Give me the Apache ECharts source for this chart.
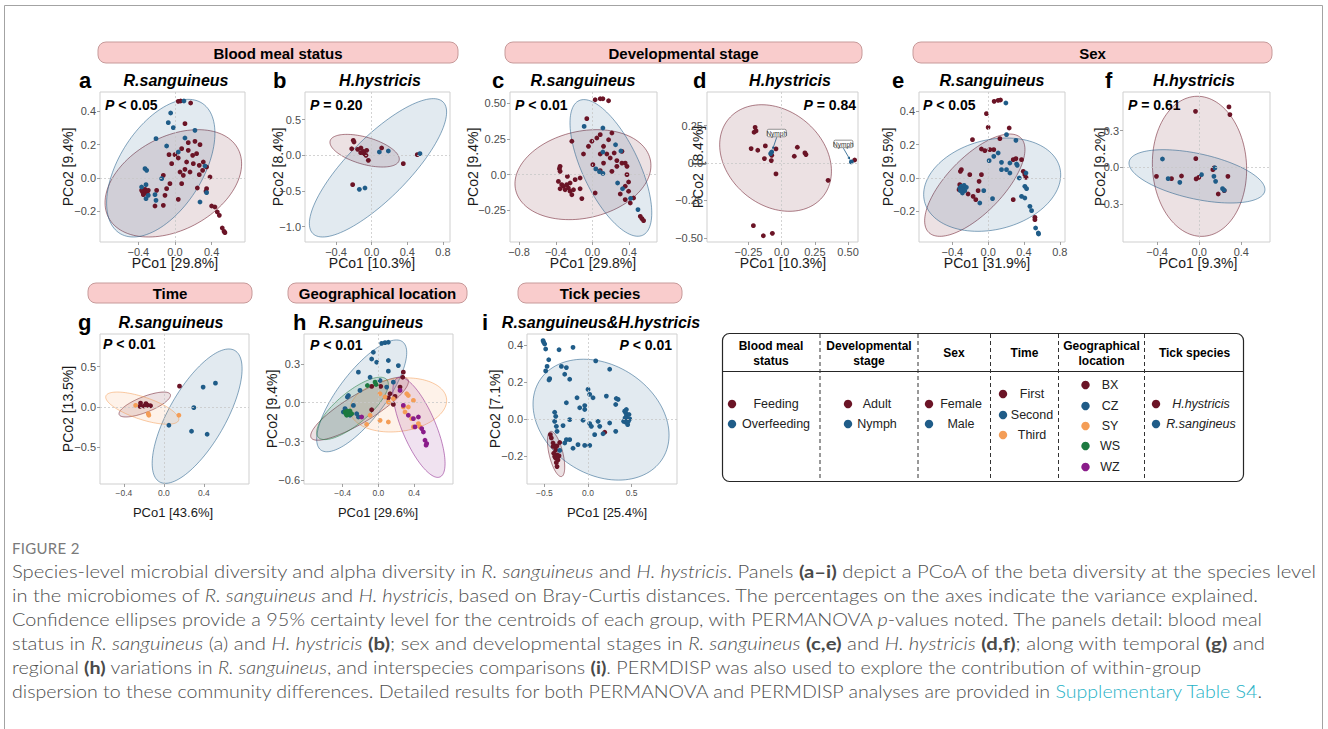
<!DOCTYPE html>
<html><head><meta charset="utf-8">
<script src="https://cdn.jsdelivr.net/npm/echarts@6/dist/echarts.min.js"></script>
<style>
html,body{margin:0;padding:0;background:#fff;width:1328px;height:729px;overflow:hidden}
#chart{position:absolute;left:0;top:0;width:1328px;height:729px}
.ln{position:absolute;left:12px;white-space:nowrap;font-family:Lato,'Open Sans',sans-serif;font-weight:300;font-size:17.5px;line-height:24px;color:#4f4f4f;transform-origin:0 50%}
.ln b{font-weight:700;color:#4a4a4a}
.fig{position:absolute;left:12px;top:538px;font-family:Lato,'Open Sans',sans-serif;font-size:15px;line-height:20px;color:#7a7a7a;letter-spacing:0.3px}
.lk{color:#27b2c6}
</style></head><body>
<div id="chart"></div>
<div class="fig">FIGURE 2</div>
<div class="ln" style="top:560px">Species-level microbial diversity and alpha diversity in <i>R. sanguineus</i> and <i>H. hystricis</i>. Panels <b>(a–i)</b> depict a PCoA of the beta diversity at the species level</div>
<div class="ln" style="top:584px">in the microbiomes of <i>R. sanguineus</i> and <i>H. hystricis</i>, based on Bray-Curtis distances. The percentages on the axes indicate the variance explained.</div>
<div class="ln" style="top:608px">Confidence ellipses provide a 95% certainty level for the centroids of each group, with PERMANOVA <i>p</i>-values noted. The panels detail: blood meal</div>
<div class="ln" style="top:632px">status in <i>R. sanguineus</i> (a) and <i>H. hystricis</i> <b>(b)</b>; sex and developmental stages in <i>R. sanguineus</i> <b>(c,e)</b> and <i>H. hystricis</i> <b>(d,f)</b>; along with temporal <b>(g)</b> and</div>
<div class="ln" style="top:656px">regional <b>(h)</b> variations in <i>R. sanguineus</i>, and interspecies comparisons <b>(i)</b>. PERMDISP was also used to explore the contribution of within-group</div>
<div class="ln" style="top:680px">dispersion to these community differences. Detailed results for both PERMANOVA and PERMDISP analyses are provided in <span class="lk">Supplementary Table S4</span>.</div>
<script>
// ================= DATA =================
// Ellipse rows: [centerX, centerY, halfWidthX, halfHeightY, xOfTopmostPoint - centerX]  (data units)
// ---- a: Blood meal status, R.sanguineus ----
const aFeeding = [[0.036,0.46],[0.062,0.462],[0.171,0.45],[0.109,0.326],[-0.065,0.14],[0.0,0.14],[0.073,0.176],[0.145,0.212],[0.218,0.22],[0.273,0.2],[0.145,0.166],[0.236,0.146],[0.036,0.12],[-0.036,0.086],[0.127,0.096],[0.2,0.086],[0.265,0.076],[0.309,0.096],[0.345,0.066],[0.302,0.046],[0.055,0.036],[0.109,0.052],[0.164,0.036],[0.091,0.016],[-0.127,0.016],[-0.055,-0.034],[-0.327,-0.068],[-0.353,-0.084],[-0.316,-0.08],[-0.302,-0.094],[-0.345,-0.1],[-0.291,-0.074],[-0.364,-0.074],[-0.2,-0.074],[-0.091,-0.064],[-0.109,-0.104],[-0.127,-0.164],[-0.218,-0.168],[0.036,-0.128],[0.244,-0.06],[0.338,-0.08],[0.382,0.006],[0.4,-0.168],[0.436,-0.174],[0.462,-0.204],[0.484,-0.224],[0.516,-0.3],[0.535,-0.32],[0.545,-0.328],[0.345,-0.064],[0.265,0.02],[0.193,0.136],[0.073,-0.034]];
const aOverfeeding = [[0.098,0.462],[-0.047,0.39],[-0.018,0.302],[-0.073,0.332],[0.218,0.286],[-0.207,0.236],[-0.091,0.192],[0.109,0.24],[0.036,0.156],[0.327,0.072],[-0.327,0.056],[-0.309,0.046],[-0.145,-0.004],[-0.316,-0.04],[-0.364,-0.054],[-0.291,-0.104],[-0.218,-0.1],[-0.207,-0.134],[-0.316,-0.124],[0.273,-0.144],[0.345,-0.088]];
const aEllipses = [[-0.018,-0.032,0.745,0.322,0.27],[-0.155,0.059,0.591,0.413,0.30]];
const aXTicks = [-0.4,0,0.4], aXTickLabels = ['−0.4','0.0','0.4'];
const aYTicks = [-0.2,0,0.2,0.4], aYTickLabels = ['−0.2','0.0','0.2','0.4'];
// ---- b: Blood meal status, H.hystricis ----
const bFeeding = [[-0.206,0.21],[-0.198,0.187],[-0.224,0.093],[-0.157,0.084],[-0.12,0.103],[-0.123,0.037],[-0.086,0.023],[-0.056,0.07],[-0.064,0.0],[-0.037,-0.07],[0.112,0.103],[0.355,-0.117],[0.512,0.009],[-0.213,-0.411],[-0.093,0.056]];
const bOverfeeding = [[0.086,0.047],[0.187,0.061],[0.542,0.023],[-0.138,-0.477],[-0.075,-0.458]];
const bEllipses = [[-0.079,0.065,0.389,0.229,-0.20],[0.071,-0.175,0.770,0.970,0.62]];
const bXTicks = [-0.4,0,0.4,0.8], bXTickLabels = ['−0.4','0.0','0.4','0.8'];
const bYTicks = [-1.0,-0.5,0,0.5], bYTickLabels = ['−1.0','−0.5','0.0','0.5'];
// ---- c: Developmental stage, R.sanguineus ----
const cAdult = [[0.029,0.523],[0.084,0.53],[0.113,0.53],[0.175,0.516],[-0.062,0.391],[-0.225,0.233],[-0.353,0.058],[-0.36,0.042],[-0.353,0.023],[-0.371,-0.047],[-0.335,-0.07],[-0.316,-0.081],[-0.28,-0.07],[-0.262,-0.093],[-0.353,-0.098],[-0.298,-0.105],[-0.244,-0.058],[-0.244,-0.116],[-0.207,-0.105],[-0.135,-0.098],[-0.225,-0.14],[-0.116,-0.167],[-0.273,-0.012],[-0.189,-0.035],[-0.135,-0.023],[-0.098,0.144],[-0.044,0.198],[-0.007,0.233],[0.047,0.256],[0.084,0.279],[0.175,0.244],[0.12,0.198],[0.211,0.291],[0.084,0.144],[0.156,0.144],[0.193,0.116],[0.265,0.098],[0.32,0.081],[0.265,0.058],[0.356,0.081],[0.375,0.058],[0.236,0.151],[0.32,0.163],[0.375,0.0],[0.393,-0.051],[0.356,-0.081],[0.393,-0.116],[0.302,-0.135],[0.084,0.028],[0.029,-0.128],[0.12,0.081],[0.004,0.07],[0.211,0.023],[0.356,-0.174],[0.447,-0.163],[0.52,-0.291],[0.538,-0.307],[0.556,-0.321],[0.411,-0.198]];
const cNymph = [[-0.091,0.337],[0.113,0.326],[0.251,0.209],[0.309,0.165],[0.113,0.158],[0.036,0.04],[0.076,0.021],[0.113,0.009],[0.273,-0.058],[0.327,-0.098],[0.415,-0.165],[0.495,-0.244]];
const cEllipses = [[-0.104,0.0,0.74,0.314,0.15],[0.2,0.047,0.445,0.477,-0.293]];
const cXTicks = [-0.8,-0.4,0,0.4], cXTickLabels = ['−0.8','−0.4','0.0','0.4'];
const cYTicks = [-0.25,0,0.25,0.5], cYTickLabels = ['−0.25','0.0','0.25','0.50'];
// ---- d: Developmental stage, H.hystricis ----
const dAdult = [[-0.2,0.238],[-0.193,0.214],[-0.208,0.205],[-0.23,0.096],[-0.18,0.085],[-0.123,0.114],[-0.043,0.094],[-0.13,0.029],[-0.078,0.016],[-0.075,0.051],[0.095,0.045],[0.118,0.105],[0.175,0.067],[0.183,0.056],[-0.043,-0.073],[0.35,-0.116],[0.55,0.02],[-0.213,-0.419],[-0.138,-0.486],[-0.07,-0.47]];
const dNymph = [[-0.075,0.073],[-0.083,0.062],[0.525,0.007]];
const dNymphNotes = [[-0.075,0.073],[0.525,0.007]];
const dNymphNoteText = ['Nymph','Nymph'];
const dEllipses = [[-0.046,0.033,0.421,0.356,-0.104]];
const dXTicks = [-0.25,0,0.25,0.5], dXTickLabels = ['−0.25','0.0','0.25','0.50'];
const dYTicks = [-0.5,-0.25,0,0.25], dYTickLabels = ['−0.50','−0.25','0.0','0.25'];
// ---- e: Sex, R.sanguineus ----
const eFemale = [[0.067,0.46],[0.112,0.466],[0.138,0.468],[-0.019,0.386],[0.0,0.304],[0.235,0.3],[-0.175,0.23],[0.131,0.236],[-0.075,0.174],[-0.037,0.164],[0.019,0.17],[0.063,0.17],[0.28,0.11],[0.31,0.116],[0.373,0.11],[-0.299,0.05],[-0.31,0.04],[-0.205,0.02],[-0.075,0.02],[-0.101,-0.02],[-0.112,-0.076],[0.392,0.04],[0.41,0.02],[0.422,0.004],[-0.317,-0.04],[-0.325,-0.07],[-0.224,-0.096],[-0.168,-0.11],[-0.138,-0.13],[0.28,-0.13],[0.522,-0.236],[0.522,-0.25]];
const eMale = [[0.198,0.45],[0.205,0.26],[0.31,0.226],[0.149,0.094],[0.243,0.09],[0.317,0.084],[0.325,0.076],[0.149,0.05],[0.205,0.05],[0.243,0.03],[0.011,0.104],[0.063,0.13],[0.112,0.15],[0.422,0.03],[0.347,0.0],[0.41,-0.05],[0.429,-0.064],[0.373,-0.11],[0.41,-0.12],[0.466,-0.17],[0.485,-0.196],[0.53,-0.3],[0.56,-0.33],[0.563,-0.336],[-0.049,-0.076],[-0.093,-0.15],[0.049,-0.124],[-0.317,-0.06],[-0.299,-0.05],[-0.28,-0.064],[-0.261,-0.076],[-0.287,-0.09],[-0.31,-0.076],[-0.243,-0.056],[-0.269,-0.044]];
const eEllipses = [[-0.149,-0.043,0.56,0.307,0.39],[0.045,-0.04,0.765,0.28,0.16]];
const eXTicks = [-0.4,0,0.4,0.8], eXTickLabels = ['−0.4','0.0','0.4','0.8'];
const eYTicks = [-0.2,0,0.2,0.4], eYTickLabels = ['−0.2','0.0','0.2','0.4'];
// ---- f: Sex, H.hystricis ----
const fFemale = [[-0.035,0.458],[0.283,0.494],[0.292,0.431],[-0.406,-0.074],[-0.263,-0.093],[-0.168,-0.071],[-0.032,0.071],[-0.029,-0.095],[-0.003,-0.082],[0.13,-0.019],[0.143,-0.005],[0.273,-0.074],[0.181,-0.218],[0.238,-0.191]];
const fMale = [[-0.349,0.068],[-0.295,-0.093],[-0.184,-0.123],[0.022,-0.06],[0.149,-0.005],[0.14,-0.074],[0.156,-0.115],[0.222,-0.175],[0.238,-0.188]];
const fEllipses = [[0.003,0.008,0.448,0.573,-0.02],[-0.021,-0.074,0.646,0.218,-0.32]];
const fXTicks = [-0.4,0,0.4], fXTickLabels = ['−0.4','0.0','0.4'];
const fYTicks = [-0.3,0,0.3], fYTickLabels = ['−0.3','0.0','0.3'];
// ---- g: Time, R.sanguineus ----
const gFirst = [[-0.233,0.049],[-0.239,0.008],[-0.179,0.041],[-0.159,0.02],[-0.133,0.016],[-0.199,0.012],[0.156,0.258]];
const gSecond = [[0.392,0.246],[0.515,0.295],[0.299,-0.008],[0.05,-0.225],[0.276,-0.299],[0.432,-0.336]];
const gThird = [[-0.282,0.02],[-0.156,-0.082],[-0.15,-0.102],[0.15,-0.102]];
const gEllipses = [[-0.191,0.031,0.257,0.154,0.19],[0.332,-0.113,0.449,0.83,0.316],[-0.216,-0.014,0.365,0.199,-0.25]];
const gXTicks = [-0.4,0,0.4], gXTickLabels = ['−0.4','0.0','0.4'];
const gYTicks = [-0.5,0,0.5], gYTickLabels = ['−0.5','0.0','0.5'];
// ---- h: Geographical location, R.sanguineus ----
const hBX = [[0.28,0.236],[0.273,0.197],[-0.075,0.126],[0.026,0.126],[0.112,0.038],[0.187,0.049],[0.168,-0.013],[-0.075,-0.054],[0.131,0.069],[0.243,0.121]];
const hCZ = [[0.037,0.459],[0.075,0.464],[0.112,0.467],[-0.056,0.39],[-0.075,0.338],[0.112,0.326],[0.224,0.287],[-0.224,0.236],[-0.019,0.313],[0.112,0.244],[0.019,0.172],[-0.093,0.197],[0.093,0.121],[0.168,0.159],[-0.206,0.095],[-0.336,0.056],[-0.348,0.044],[-0.28,-0.021],[-0.243,-0.085],[-0.318,-0.097],[-0.374,-0.046],[-0.393,-0.072],[-0.224,-0.11]];
const hSY = [[0.019,0.069],[0.075,0.044],[0.168,0.031],[0.318,0.069],[0.336,0.056],[0.393,0.018],[0.112,0.005],[-0.093,-0.097],[0.019,-0.136],[0.28,-0.033],[0.336,-0.033],[0.374,-0.123],[0.449,-0.162],[0.467,-0.187],[0.393,-0.187],[0.112,-0.149],[-0.131,-0.167],[0.299,-0.072]];
const hWS = [[-0.037,0.159],[-0.026,0.141],[-0.123,0.133],[-0.374,-0.072],[-0.363,-0.085],[-0.355,-0.097],[-0.336,-0.079],[-0.325,-0.09],[-0.318,-0.064],[-0.299,-0.085],[-0.348,-0.064]];
const hWZ = [[0.243,0.095],[0.28,-0.021],[0.336,-0.097],[0.393,-0.123],[0.449,-0.11],[0.486,-0.2],[0.505,-0.226],[0.523,-0.29],[0.542,-0.315],[0.535,-0.328],[0.411,-0.187],[-0.187,-0.11]];
const hEllipses = [[-0.211,-0.046,0.548,0.244,0.47],[-0.187,0.053,0.505,0.432,0.39],[0.224,-0.017,0.542,0.209,0.09],[-0.29,-0.044,0.402,0.241,0.31],[0.455,-0.19,0.293,0.387,-0.211]];
const hXTicks = [-0.4,0,0.4], hXTickLabels = ['−0.4','0.0','0.4'];
const hYTicks = [-0.6,-0.3,0,0.3], hYTickLabels = ['−0.6','−0.3','0.0','0.3'];
// ---- i: Tick species ----
const iHystricis = [[-0.431,-0.085],[-0.42,-0.103],[-0.401,-0.13],[-0.382,-0.145],[-0.355,-0.145],[-0.324,-0.127],[-0.37,-0.167],[-0.393,-0.185],[-0.355,-0.194],[-0.332,-0.199],[-0.37,-0.212],[-0.344,-0.221],[-0.363,-0.236],[-0.355,-0.257],[-0.382,-0.203],[-0.401,-0.149],[0.191,-0.072]];
const iSangineus = [[-0.515,0.422],[-0.508,0.413],[-0.496,0.404],[-0.485,0.377],[-0.45,0.319],[-0.469,0.283],[-0.485,0.259],[-0.439,0.217],[-0.447,0.21],[-0.305,0.283],[-0.248,0.277],[-0.332,0.373],[-0.172,0.386],[-0.267,0.241],[-0.21,0.214],[0.088,0.313],[0.248,0.268],[0.0,0.159],[0.019,0.132],[0.057,0.114],[-0.126,0.114],[-0.248,0.087],[-0.095,0.06],[-0.038,0.072],[-0.038,0.051],[0.21,0.123],[0.324,0.11],[0.344,0.105],[0.317,0.078],[-0.382,0.036],[-0.37,0.014],[-0.382,-0.013],[-0.363,-0.04],[-0.355,-0.067],[-0.286,-0.036],[-0.21,-0.004],[-0.057,-0.007],[0.019,-0.025],[0.038,-0.04],[0.134,-0.04],[0.115,-0.013],[0.248,-0.022],[0.317,-0.067],[0.076,-0.085],[0.172,-0.08],[-0.248,-0.112],[-0.267,-0.13],[-0.21,-0.112],[-0.172,-0.158],[-0.115,-0.139],[-0.038,-0.143],[0.019,-0.143],[-0.324,-0.17],[0.439,0.051],[0.431,0.033],[0.439,0.014],[0.447,-0.004],[0.431,-0.018],[0.454,-0.031],[0.424,0.005],[0.469,0.024],[0.408,-0.013],[0.462,-0.013],[0.42,0.042],[0.477,0.0]];
const iEllipses = [[-0.366,-0.189,0.099,0.122,-0.057],[0.149,-0.004,0.779,0.326,-0.2]];
const iXTicks = [-0.5,0,0.5], iXTickLabels = ['−0.5','0.0','0.5'];
const iYTicks = [-0.2,0,0.2,0.4], iYTickLabels = ['−0.2','0.0','0.2','0.4'];
// ---- Legend table categories ----
const bloodMealGroups = ['Feeding','Overfeeding'];
const devStageGroups = ['Adult','Nymph'];
const sexGroups = ['Female','Male'];
const timeGroups = ['First','Second','Third'];
const locationGroups = ['BX','CZ','SY','WS','WZ'];
const speciesGroups = ['H.hystricis','R.sangineus'];

// ================= STYLE / LAYOUT =================
const FONT = "'Liberation Sans', Arial, Helvetica, sans-serif";
const COL = {red:'#6b1426', blue:'#1f5c88', orange:'#f49d56', green:'#1d7a40', purple:'#8a1c8a'};
function rgba(hex,a){const n=parseInt(hex.slice(1),16);return `rgba(${n>>16&255},${n>>8&255},${n&255},${a})`;}

const panels = [
 {g:[100,92,145,150], xr:[-0.818,0.764], yr:[-0.384,0.516], xt:aXTicks, xtl:aXTickLabels, yt:aYTicks, ytl:aYTickLabels,
  groups:[[aFeeding,'red'],[aOverfeeding,'blue']], ell:aEllipses, ellCol:['red','blue'], xs:11},
 {g:[305,92,145,150], xr:[-0.748,0.879], yr:[-1.215,0.888], xt:bXTicks, xtl:bXTickLabels, yt:bYTicks, ytl:bYTickLabels,
  groups:[[bFeeding,'red'],[bOverfeeding,'blue']], ell:bEllipses, ellCol:['red','blue'], xs:11},
 {g:[510,92,147,150], xr:[-0.898,0.702], yr:[-0.47,0.577], xt:cXTicks, xtl:cXTickLabels, yt:cYTicks, ytl:cYTickLabels,
  groups:[[cAdult,'red'],[cNymph,'blue']], ell:cEllipses, ellCol:['red','blue'], xs:11},
 {g:[707,92,151,150], xr:[-0.5625,0.575], yr:[-0.528,0.474], xt:dXTicks, xtl:dXTickLabels, yt:dYTicks, ytl:dYTickLabels,
  groups:[[dAdult,'red'],[dNymph,'blue']], ell:dEllipses, ellCol:['red'], xs:11, notes:true},
 {g:[919,92,146,150], xr:[-0.772,0.858], yr:[-0.384,0.516], xt:eXTicks, xtl:eXTickLabels, yt:eYTicks, ytl:eYTickLabels,
  groups:[[eFemale,'red'],[eMale,'blue']], ell:eEllipses, ellCol:['red','blue'], xs:11},
 {g:[1123,92,147,150], xr:[-0.724,0.673], yr:[-0.611,0.616], xt:fXTicks, xtl:fXTickLabels, yt:fYTicks, ytl:fYTickLabels,
  groups:[[fFemale,'red'],[fMale,'blue']], ell:fEllipses, ellCol:['red','blue'], xs:11},
 {g:[100,334,149,150], xr:[-0.638,0.85], yr:[-0.951,0.902], xt:gXTicks, xtl:gXTickLabels, yt:gYTicks, ytl:gYTickLabels,
  groups:[[gFirst,'red'],[gSecond,'blue'],[gThird,'orange']], ell:gEllipses, ellCol:['red','blue','orange'], xs:8.5},
 {g:[304,334,149,150], xr:[-0.834,0.837], yr:[-0.628,0.531], xt:hXTicks, xtl:hXTickLabels, yt:hYTicks, ytl:hYTickLabels,
  groups:[[hBX,'red'],[hCZ,'blue'],[hSY,'orange'],[hWS,'green'],[hWZ,'purple']], ell:hEllipses, ellCol:['red','blue','orange','green','purple'], xs:8.5},
 {g:[527,334,150,150], xr:[-0.699,1.019], yr:[-0.351,0.458], xt:iXTicks, xtl:iXTickLabels, yt:iYTicks, ytl:iYTickLabels,
  groups:[[iHystricis,'red'],[iSangineus,'blue']], ell:iEllipses, ellCol:['red','blue'], xs:8.5}
];

function tickFmt(vals, labels){return v=>{for(let k=0;k<vals.length;k++){if(Math.abs(vals[k]-v)<1e-9)return labels[k];}return '';};}

function ellipseRender(color){
  return function(params, api){
    const cx=api.value(0), cy=api.value(1), W=api.value(2), H=api.value(3), d=api.value(4);
    const phi=Math.acos(Math.max(-1,Math.min(1,d/W)));
    const pts=[];
    for(let k=0;k<120;k++){const t=k/120*2*Math.PI;pts.push(api.coord([cx+W*Math.cos(t), cy+H*Math.cos(t-phi)]));}
    return {type:'polygon', shape:{points:pts}, style:{fill:rgba(color,0.13), stroke:rgba(color,0.6), lineWidth:0.9}};
  };
}
const NOTE_OFFSETS=[[5,-19],[-8,-18]];
function noteRender(params, api){
  const p=api.coord([api.value(0),api.value(1)]);
  const off=NOTE_OFFSETS[params.dataIndex];
  const bx=p[0]+off[0], by=p[1]+off[1], w=19, h=7.5;
  const sx=bx, sy=by+h/2+0.5, ex=p[0], ey=p[1];
  const L=Math.hypot(ex-sx,ey-sy), ux=(ex-sx)/L, uy=(ey-sy)/L;
  const tx=ex-ux*2.6, ty=ey-uy*2.6, hl=2.8, hw=1.5;
  return {type:'group', children:[
    {type:'line', shape:{x1:sx,y1:sy,x2:tx-ux*hl*0.6,y2:ty-uy*hl*0.6}, style:{stroke:COL.blue,lineWidth:0.8}},
    {type:'polygon', shape:{points:[[tx,ty],[tx-ux*hl-uy*hw,ty-uy*hl+ux*hw],[tx-ux*hl+uy*hw,ty-uy*hl-ux*hw]]}, style:{fill:COL.blue}},
    {type:'rect', shape:{x:bx-w/2,y:by-h/2,width:w,height:h,r:1.5}, style:{fill:'#fff',stroke:'#666',lineWidth:0.7}},
    {type:'text', x:bx, y:by+0.3, style:{text:dNymphNoteText[params.dataIndex], fontFamily:FONT, fontSize:6.5, fill:'#333', align:'center', verticalAlign:'middle'}}
  ]};
}

const grids=[], xAxes=[], yAxes=[], series=[];
panels.forEach((P,i)=>{
  grids.push({left:P.g[0], top:P.g[1], width:P.g[2], height:P.g[3], show:true, borderColor:'#cfcfcf', borderWidth:1, backgroundColor:'transparent', containLabel:false, outerBoundsMode:'none'});
  const common={gridIndex:i, type:'value', axisLine:{show:false,onZero:false}, splitLine:{show:false}, splitArea:{show:false}};
  xAxes.push(Object.assign({}, common, {min:P.xr[0], max:P.xr[1],
    axisTick:{show:true, customValues:P.xt, length:3, lineStyle:{color:'#8a8a8a',width:0.8}},
    axisLabel:{customValues:P.xt, formatter:tickFmt(P.xt,P.xtl), fontSize:P.xs, color:'#4d4d4d', margin:4, fontFamily:FONT}}));
  yAxes.push(Object.assign({}, common, {min:P.yr[0], max:P.yr[1],
    axisTick:{show:true, customValues:P.yt, length:3, lineStyle:{color:'#8a8a8a',width:0.8}},
    axisLabel:{customValues:P.yt, formatter:tickFmt(P.yt,P.ytl), fontSize:11, color:'#4d4d4d', margin:4, fontFamily:FONT}}));
  series.push({type:'scatter', xAxisIndex:i, yAxisIndex:i, data:[], z:0, silent:true,
    markLine:{silent:true, symbol:'none', animation:false, label:{show:false}, lineStyle:{color:'#c8c8c8', type:[2,2], width:0.8}, data:[{xAxis:0},{yAxis:0}]}});
  P.ell.forEach((e,k)=>{
    series.push({type:'custom', xAxisIndex:i, yAxisIndex:i, z:1, silent:true, data:[e], renderItem:ellipseRender(COL[P.ellCol[k]])});
  });
  P.groups.forEach(([d,c])=>{
    series.push({type:'scatter', xAxisIndex:i, yAxisIndex:i, z:3, silent:true, data:d, symbolSize:4.8, itemStyle:{color:COL[c], opacity:1}});
  });
  if(P.notes){
    series.push({type:'custom', xAxisIndex:i, yAxisIndex:i, z:4, silent:true, data:dNymphNotes, renderItem:noteRender});
  }
});

// ---- annotation texts ----
const graphics=[];
function txt(x,y,text,opt){graphics.push({type:'text', x, y, silent:true, rotation:opt.rot||0, style:Object.assign({text, fontFamily:FONT, fill:'#000', align:'center', verticalAlign:'middle'}, opt.s||{})});}
// outer frame
graphics.push({type:'polyline', silent:true, shape:{points:[[4.5,729],[4.5,5.5],[1322.5,5.5],[1322.5,729]]}, style:{stroke:'#a3a3a3', lineWidth:1, fill:null}});
// section headers
const headers=[['Blood meal status',98,42,360,21],['Developmental stage',505,42,357,21],['Sex',913,42,359,21],['Time',88,283,164,20],['Geographical location',288,283,179,20],['Tick pecies',518,283,164,20]];
headers.forEach(([t,x,y,w,h])=>{
  graphics.push({type:'rect', silent:true, shape:{x,y,width:w,height:h,r:8}, style:{fill:'#f9cccc', stroke:'#c79a9a', lineWidth:1}});
  txt(x+w/2, y+h/2+0.5, t, {s:{fontSize:15, fontWeight:'bold'}});
});
// panel letters and titles
const letters=[['a',79,80],['b',273,80],['c',492,80],['d',693,80],['e',892,80],['f',1105,80],['g',78,322],['h',293,322],['i',482,322]];
letters.forEach(([t,x,y])=>txt(x,y,t,{s:{fontSize:22, fontWeight:'bold', align:'left'}}));
const titles=[['R.sanguineus',176,80],['H.hystricis',380,80],['R.sanguineus',583,80],['H.hystricis',790,80],['R.sanguineus',992,80],['H.hystricis',1194,80],['R.sanguineus',171,322],['R.sanguineus',371,322],['R.sanguineus&H.hystricis',601,322]];
titles.forEach(([t,x,y])=>txt(x,y,t,{s:{fontSize:16, fontWeight:'bold', fontStyle:'italic'}}));
// p-values
const pv=[['< 0.05',105,105,'left'],['= 0.20',310,105,'left'],['< 0.01',515,105,'left'],['= 0.84',856,105,'right'],['< 0.05',923,105,'left'],['= 0.61',1128,105,'left'],['< 0.01',103,344,'left'],['< 0.01',310,345,'left'],['< 0.01',672,345,'right']];
pv.forEach(([t,x,y,al])=>txt(x,y,'{p|P} '+t,{s:{fontSize:14, fontWeight:'bold', align:al, rich:{p:{fontStyle:'italic', fontWeight:'bold', fontSize:14, fontFamily:FONT, fill:'#000'}}}}));
// axis titles
const xTitles=[['PCo1 [29.8%]',175,263],['PCo1 [10.3%]',372,263],['PCo1 [29.8%]',593,263],['PCo1 [10.3%]',783,263],['PCo1 [31.9%]',987,263],['PCo1 [9.3%]',1198,263],['PCo1 [43.6%]',173,512],['PCo1 [29.6%]',378,512],['PCo1 [25.4%]',607,512]];
xTitles.forEach(([t,x,y],k)=>txt(x,y,t,{s:{fontSize:k<6?14:13, fill:'#1a1a1a'}}));
const yTitles=[['PCo2 [9.4%]',68,167],['PCo2 [8.4%]',278,167],['PCo2 [9.4%]',473,167],['PCo2  [8.4%]',698,167],['PCo2 [9.5%]',888,167],['PCo2 [9.2%]',1100,167],['PCo2 [13.5%]',68,409],['PCo2 [9.4%]',272,409],['PCo2 [7.1%]',495,409]];
yTitles.forEach(([t,x,y])=>txt(x,y,t,{rot:Math.PI/2, s:{fontSize:14, fill:'#1a1a1a'}}));

// ---- legend table ----
graphics.push({type:'rect', silent:true, shape:{x:722.5,y:333.5,width:521,height:148,r:7}, style:{fill:'#fff', stroke:'#262626', lineWidth:1.2}});
graphics.push({type:'line', silent:true, shape:{x1:722.5,y1:371.5,x2:1243.5,y2:371.5}, style:{stroke:'#262626', lineWidth:1}});
[820,918,990.5,1058.5,1144.5].forEach(x=>graphics.push({type:'line', silent:true, shape:{x1:x,y1:334,x2:x,y2:481}, style:{stroke:'#333', lineWidth:1, lineDash:[4,3]}}));
const legendCols=[
  {head:['Blood meal','status'], hx:771, items:bloodMealGroups, cols:['red','blue'], dx:732, tx:776, ys:[404,424]},
  {head:['Developmental','stage'], hx:869, items:devStageGroups, cols:['red','blue'], dx:848, tx:877, ys:[404,424]},
  {head:['Sex'], hx:954, items:sexGroups, cols:['red','blue'], dx:929, tx:961, ys:[404,424]},
  {head:['Time'], hx:1024.5, items:timeGroups, cols:['red','blue','orange'], dx:1003, tx:1032, ys:[394,415,435]},
  {head:['Geographical','location'], hx:1101.5, items:locationGroups, cols:['red','blue','orange','green','purple'], dx:1085.5, tx:1110, ys:[385,406,426,446,467]},
  {head:['Tick species'], hx:1194.5, items:speciesGroups, cols:['red','blue'], dx:1156, tx:1201, ys:[404,424], italic:true}
];
legendCols.forEach(c=>{
  if(c.head.length===2){txt(c.hx,346,c.head[0],{s:{fontSize:12,fontWeight:'bold'}});txt(c.hx,361,c.head[1],{s:{fontSize:12,fontWeight:'bold'}});}
  else txt(c.hx,353,c.head[0],{s:{fontSize:12,fontWeight:'bold'}});
  c.items.forEach((it,k)=>{
    graphics.push({type:'circle', silent:true, shape:{cx:c.dx, cy:c.ys[k], r:4.2}, style:{fill:COL[c.cols[k]]}});
    txt(c.tx, c.ys[k], it, {s:{fontSize:12.5, fill:'#222', fontStyle:c.italic?'italic':'normal'}});
  });
});

const chart=echarts.init(document.getElementById('chart'), null, {renderer:'svg', width:1328, height:729});
chart.setOption({animation:false, backgroundColor:'#fff', grid:grids, xAxis:xAxes, yAxis:yAxes, series, graphic:{elements:graphics}});

// ---- fit caption lines to the reference line lengths ----
const lineEnds=[1316,1258,1262,1265,1201,1262];
function fitCaption(){document.querySelectorAll('.ln').forEach((el,k)=>{el.style.transform='none';const w=el.getBoundingClientRect().width;el.style.transform='scaleX('+((lineEnds[k]-12)/w)+')';});}
fitCaption();
if(document.fonts&&document.fonts.ready)document.fonts.ready.then(fitCaption);
</script>
</body></html>
